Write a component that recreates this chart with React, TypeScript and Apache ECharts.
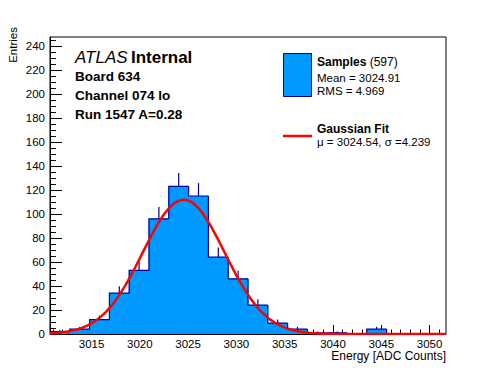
import React, { useEffect, useRef } from "react";
import * as echarts from "echarts";

// ---- data ----
const xMin = 3010.7;
const xMax = 3051.7;
const yMin = 0;
const yMax = 247.5;
const binLow = 3010.7;
const binWidth = 2.05;
const binCounts = [2, 4, 12, 34, 53, 96, 123, 115, 64, 46, 24, 9, 4, 1, 1, 0, 4, 0, 0, 0];

const fitX = [3010.7, 3011, 3011.5, 3012, 3012.5, 3013, 3013.5, 3014, 3014.5, 3015, 3015.5, 3016, 3016.5, 3017, 3017.5, 3018, 3018.5, 3019, 3019.5, 3020, 3020.5, 3021, 3021.5, 3022, 3022.5, 3023, 3023.5, 3024, 3024.5, 3025, 3025.5, 3026, 3026.5, 3027, 3027.5, 3028, 3028.5, 3029, 3029.5, 3030, 3030.5, 3031, 3031.5, 3032, 3032.5, 3033, 3033.5, 3034, 3034.5, 3035, 3035.5, 3036, 3036.5, 3037, 3037.5, 3038, 3038.5, 3039, 3039.5, 3040, 3042, 3051.7];
const fitY = [0.5, 0.7, 1.0, 1.4, 2.0, 2.8, 3.8, 5.1, 6.8, 8.9, 11.5, 14.7, 18.5, 23, 28.2, 34, 40.6, 47.7, 55.2, 63, 71.1, 79, 86.6, 93.6, 99.8, 104.8, 108.7, 111, 112, 111.3, 109.2, 105.5, 100.6, 94.6, 87.8, 80.3, 72.4, 64.4, 56.5, 48.9, 41.7, 35.1, 29.1, 23.8, 19.2, 15.3, 12.0, 9.3, 7.1, 5.3, 4.0, 2.9, 2.1, 1.5, 1.0, 0.7, 0.5, 0.3, 0.2, 0.1, 0, 0];

const xMajorTicks = [3015, 3020, 3025, 3030, 3035, 3040, 3045, 3050];
const xMinorTicks = [3011, 3012, 3013, 3014, 3015, 3016, 3017, 3018, 3019, 3020, 3021, 3022, 3023, 3024, 3025, 3026, 3027, 3028, 3029, 3030, 3031, 3032, 3033, 3034, 3035, 3036, 3037, 3038, 3039, 3040, 3041, 3042, 3043, 3044, 3045, 3046, 3047, 3048, 3049, 3050, 3051];
const yMajorTicks = [0, 20, 40, 60, 80, 100, 120, 140, 160, 180, 200, 220, 240];
const yMinorTicks = [0, 5, 10, 15, 20, 25, 30, 35, 40, 45, 50, 55, 60, 65, 70, 75, 80, 85, 90, 95, 100, 105, 110, 115, 120, 125, 130, 135, 140, 145, 150, 155, 160, 165, 170, 175, 180, 185, 190, 195, 200, 205, 210, 215, 220, 225, 230, 235, 240, 245];

const xTitle = "Energy [ADC Counts]";
const yTitle = "Entries";
const infoLines = ["Board 634", "Channel 074 lo", "Run 1547 A=0.28"];
const sampleCount = "(597)";
const meanText = "Mean = 3024.91";
const rmsText = "RMS = 4.969";
const fitText = "\u03bc = 3024.54, \u03c3 =4.239";

const FONT = "'Liberation Sans', Arial, Helvetica, sans-serif";
const FILL = "#0099ff";
const EDGE = "#000099";

export default function App() {
  const ref = useRef<HTMLDivElement>(null);

  useEffect(() => {
    if (!ref.current) return;
    const chart = echarts.init(ref.current, null, { renderer: "svg" });

    const histData = binCounts.map((c, i) => [
      binLow + i * binWidth,
      binLow + (i + 1) * binWidth,
      c,
      i === 0 ? 0 : binCounts[i - 1],
    ]);
    const fitData = fitX.map((x, i) => [x, fitY[i]]);

    const axisText = { fontFamily: FONT, fontSize: 11.5, color: "#000" };
    const plain = (v: number) => String(v);

    chart.setOption({
      animation: false,
      backgroundColor: "#fff",
      textStyle: { fontFamily: FONT },
      grid: {
        left: 50,
        right: 50,
        top: 37,
        bottom: 38,
        show: true,
        borderColor: "#000",
        borderWidth: 1,
        backgroundColor: "transparent",
        containLabel: false,
        outerBoundsMode: "none",
      },
      xAxis: [
        {
          type: "value",
          min: xMin,
          max: xMax,
          position: "bottom",
          axisLine: { show: true, lineStyle: { color: "#000", width: 1 } },
          axisTick: { show: true, inside: true, length: 9, customValues: xMajorTicks, lineStyle: { color: "#000", width: 1 } },
          axisLabel: { show: true, customValues: xMajorTicks, margin: 4, formatter: plain, ...axisText },
          splitLine: { show: false },
        },
        {
          type: "value",
          min: xMin,
          max: xMax,
          position: "bottom",
          axisLine: { show: false },
          axisTick: { show: true, inside: true, length: 4.5, customValues: xMinorTicks, lineStyle: { color: "#000", width: 1 } },
          axisLabel: { show: false },
          splitLine: { show: false },
        },
      ],
      yAxis: [
        {
          type: "value",
          min: yMin,
          max: yMax,
          position: "left",
          axisLine: { show: true, lineStyle: { color: "#000", width: 1 } },
          axisTick: { show: true, inside: true, length: 12, customValues: yMajorTicks, lineStyle: { color: "#000", width: 1 } },
          axisLabel: { show: true, customValues: yMajorTicks, margin: 5, formatter: plain, ...axisText },
          splitLine: { show: false },
        },
        {
          type: "value",
          min: yMin,
          max: yMax,
          position: "left",
          axisLine: { show: false },
          axisTick: { show: true, inside: true, length: 6, customValues: yMinorTicks, lineStyle: { color: "#000", width: 1 } },
          axisLabel: { show: false },
          splitLine: { show: false },
        },
      ],
      series: [
        {
          type: "custom",
          name: "Samples",
          xAxisIndex: 0,
          yAxisIndex: 0,
          clip: true,
          z: 2,
          encode: { x: [0, 1], y: 2 },
          data: histData,
          renderItem: (params: any, api: any) => {
            const x0 = api.value(0);
            const x1 = api.value(1);
            const c = api.value(2);
            const prev = api.value(3);
            const pTop = api.coord([x0, c]);
            const pBot = api.coord([x1, 0]);
            const pPrev = api.coord([x0, prev]);
            const children: any[] = [];
            if (c > 0) {
              children.push({
                type: "rect",
                shape: { x: pTop[0] - 0.4, y: pTop[1], width: pBot[0] - pTop[0] + 0.8, height: pBot[1] - pTop[1] },
                style: { fill: FILL, stroke: null },
                z2: 0,
              });
            }
            children.push({
              type: "polyline",
              shape: { points: [[pTop[0], pPrev[1]], [pTop[0], pTop[1]], [pBot[0], pTop[1]]] },
              style: { stroke: EDGE, lineWidth: 1.2, fill: null },
              z2: 2,
            });
            if (c > 0) {
              const xc = (x0 + x1) / 2;
              const e0 = api.coord([xc, c]);
              const e1 = api.coord([xc, c + Math.sqrt(c)]);
              children.push({
                type: "line",
                shape: { x1: e0[0], y1: e0[1], x2: e1[0], y2: e1[1] },
                style: { stroke: EDGE, lineWidth: 1.2 },
                z2: 2,
              });
            }
            return { type: "group", children };
          },
        },
        {
          type: "line",
          name: "Gaussian Fit",
          xAxisIndex: 0,
          yAxisIndex: 0,
          data: fitData,
          smooth: false,
          showSymbol: false,
          symbol: "none",
          clip: true,
          z: 3,
          lineStyle: { color: "#ff0000", width: 2.5, join: "round" },
        },
      ],
      graphic: [
        {
          type: "text",
          x: 75,
          y: 57,
          style: {
            text: "{i|ATLAS} {b|Internal}",
            fill: "#000",
            verticalAlign: "middle",
            rich: {
              i: { fontFamily: FONT, fontSize: 17, fontStyle: "italic", fill: "#000" },
              b: { fontFamily: FONT, fontSize: 17, fontWeight: "bold", fill: "#000" },
            },
          },
        },
        ...infoLines.map((t, i) => ({
          type: "text",
          x: 75,
          y: 76 + i * 19,
          style: {
            text: t,
            font: `bold 13.5px ${FONT}`,
            fill: "#000",
            verticalAlign: "middle",
          },
        })),
        {
          type: "rect",
          shape: { x: 283.5, y: 53.5, width: 28, height: 43 },
          style: { fill: FILL, stroke: EDGE, lineWidth: 1 },
        },
        {
          type: "text",
          x: 317,
          y: 62,
          style: {
            text: `{b|Samples} {n|${sampleCount}}`,
            verticalAlign: "middle",
            rich: {
              b: { fontFamily: FONT, fontSize: 12, fontWeight: "bold", fill: "#000" },
              n: { fontFamily: FONT, fontSize: 12, fill: "#000" },
            },
          },
        },
        {
          type: "text",
          x: 317,
          y: 78,
          style: { text: meanText, font: `11.5px ${FONT}`, fill: "#000", verticalAlign: "middle" },
        },
        {
          type: "text",
          x: 317,
          y: 90.5,
          style: { text: rmsText, font: `11.5px ${FONT}`, fill: "#000", verticalAlign: "middle" },
        },
        {
          type: "line",
          shape: { x1: 283, y1: 136, x2: 312, y2: 136 },
          style: { stroke: "#ff0000", lineWidth: 2.5 },
        },
        {
          type: "text",
          x: 317,
          y: 129,
          style: { text: "Gaussian Fit", font: `bold 12px ${FONT}`, fill: "#000", verticalAlign: "middle" },
        },
        {
          type: "text",
          x: 317,
          y: 141.5,
          style: { text: fitText, font: `11.5px ${FONT}`, fill: "#000", verticalAlign: "middle" },
        },
        {
          type: "text",
          x: 446,
          y: 356,
          style: { text: xTitle, font: `12px ${FONT}`, fill: "#000", align: "right", verticalAlign: "middle" },
        },
        {
          type: "text",
          x: 13,
          y: 27,
          rotation: Math.PI / 2,
          style: { text: yTitle, font: `11.5px ${FONT}`, fill: "#000", align: "right", verticalAlign: "middle" },
        },
      ],
    });

    return () => chart.dispose();
  }, []);

  return (
    <div
      ref={ref}
      style={{ position: "absolute", left: 0, top: 0, width: 496, height: 372, background: "#fff" }}
    />
  );
}
